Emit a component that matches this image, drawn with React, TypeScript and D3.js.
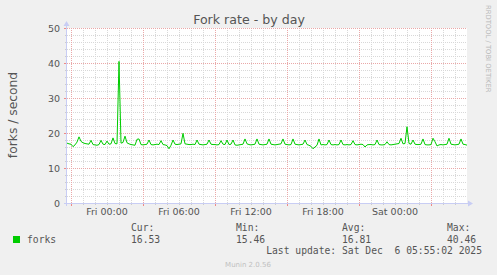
import React from 'react';
import * as d3 from 'd3';

// forks per second, 10-minute samples starting Thu 20:40
const forks: number[] = [
  17.1, 16.9, 16.8, 16.1, 16.6, 17.4, 18.9, 17.6, 17.2, 17.0,
  16.9, 16.8, 17.9, 16.7, 16.6, 16.5, 16.7, 17.9, 16.8, 16.7,
  17.7, 16.8, 16.9, 18.6, 17.0, 16.9, 40.46, 17.1, 17.3, 19.1,
  17.2, 16.9, 16.7, 16.6, 16.5, 18.2, 18.3, 16.7, 16.6, 16.7,
  16.8, 18.0, 16.7, 16.6, 16.7, 16.8, 16.7, 17.8, 16.7, 16.6,
  16.4, 15.5, 16.5, 18.0, 16.8, 16.7, 16.8, 16.9, 19.9, 16.9,
  16.8, 16.7, 16.7, 16.8, 16.7, 18.0, 16.8, 16.7, 16.6, 16.7,
  16.8, 18.0, 16.8, 16.7, 16.7, 16.6, 16.7, 17.8, 16.8, 16.7,
  18.0, 16.7, 16.8, 18.0, 16.6, 16.5, 16.6, 16.7, 16.8, 18.3,
  16.9, 16.7, 16.6, 16.7, 16.8, 18.3, 16.8, 16.7, 16.6, 16.7,
  16.8, 18.3, 16.8, 16.7, 16.6, 16.7, 16.8, 16.9, 18.3, 16.8,
  16.7, 16.6, 16.7, 18.3, 16.8, 16.7, 16.6, 16.7, 16.8, 18.0,
  16.7, 16.5, 16.2, 15.5, 16.0, 16.5, 18.3, 16.6, 16.7, 16.6,
  16.7, 18.0, 16.7, 16.6, 16.7, 16.6, 16.7, 18.0, 16.7, 16.6,
  16.7, 16.6, 16.7, 17.8, 16.7, 16.6, 16.7, 16.8, 16.7, 16.0,
  16.6, 16.7, 16.7, 16.6, 16.7, 18.0, 16.7, 16.6, 16.6, 16.7,
  17.5, 16.7, 16.6, 16.7, 16.8, 16.9, 17.0, 18.5, 16.9, 17.0,
  21.8, 17.0, 16.8, 18.0, 16.8, 16.7, 16.7, 16.8, 18.3, 16.7,
  16.6, 16.6, 16.7, 18.5, 17.5, 16.3, 16.6, 16.7, 16.6, 16.7,
  16.8, 18.5, 16.8, 16.7, 16.6, 16.7, 16.8, 18.3, 16.8, 16.7,
  16.53,
];

const yTicks = [0, 10, 20, 30, 40, 50];
const legendLabels = ['Cur:', 'Min:', 'Avg:', 'Max:'];
const legendValues = ['16.53', '15.46', '16.81', '40.46'];

const START = new Date(2025, 11, 4, 20, 40);
const END = new Date(2025, 11, 6, 6, 0);
const STEP_MIN = 10;

const W = 497;
const H = 275;
const L = 67, R = 467, T = 28, B = 203;

const SANS = 'DejaVu Sans, Verdana, sans-serif';
const MONO = 'DejaVu Sans Mono, monospace';

export default function App() {
  const x = d3.scaleTime().domain([START, END]).range([L, R]);
  const y = d3.scaleLinear().domain([0, 50]).range([B, T]);
  const times = forks.map((_, i) => d3.timeMinute.offset(START, i * STEP_MIN));
  const line = d3
    .line<number>()
    .x((_, i) => x(times[i]))
    .y((d) => y(d));

  const hours = d3.timeHour.range(d3.timeHour.ceil(START), END);
  const majorHours = hours.filter((h) => h.getHours() % 6 === 3);
  const minorHours = hours.filter((h) => h.getHours() % 6 !== 3);
  const labelHours = hours.filter((h) => h.getHours() % 6 === 0);
  const fmt = d3.timeFormat('%a %H:%M');

  const minorY = d3.range(0, 51, 2).filter((v) => v % 10 !== 0);

  const px = (v: number) => Math.round(v) + 0.5;
  const legendX = [131, 236, 342, 447];

  return (
    <svg
      width={W}
      height={H}
      style={{ position: 'fixed', left: 0, top: 0, display: 'block' }}
      xmlns="http://www.w3.org/2000/svg"
    >
      <rect x={0} y={0} width={W} height={H} fill="#f0f0f0" />
      <rect x={L} y={T} width={R - L} height={B - T} fill="#ffffff" />

      {/* minor grid */}
      {minorHours.map((h, i) => (
        <line key={'mv' + i} x1={px(x(h))} x2={px(x(h))} y1={T} y2={B}
          stroke="#d8d8d8" strokeDasharray="1,1" />
      ))}
      {minorY.map((v) => (
        <line key={'mh' + v} x1={L} x2={R} y1={px(y(v))} y2={px(y(v))}
          stroke="#d8d8d8" strokeDasharray="1,1" />
      ))}
      {/* major grid */}
      {majorHours.map((h, i) => (
        <line key={'Mv' + i} x1={px(x(h))} x2={px(x(h))} y1={T} y2={B}
          stroke="#eaa8a8" strokeDasharray="1,1" />
      ))}
      {yTicks.filter((v) => v > 0).map((v) => (
        <line key={'Mh' + v} x1={L} x2={R} y1={px(y(v))} y2={px(y(v))}
          stroke="#eaa8a8" strokeDasharray="1,1" />
      ))}

      {/* ticks */}
      {minorHours.map((h, i) => (
        <line key={'tv' + i} x1={px(x(h))} x2={px(x(h))} y1={B} y2={B + 2} stroke="#cccccc" />
      ))}
      {majorHours.map((h, i) => (
        <line key={'tM' + i} x1={px(x(h))} x2={px(x(h))} y1={B} y2={B + 3} stroke="#ee8888" />
      ))}
      {minorY.map((v) => (
        <line key={'ty' + v} x1={L - 2} x2={L} y1={px(y(v))} y2={px(y(v))} stroke="#cccccc" />
      ))}
      {yTicks.map((v) => (
        <line key={'tY' + v} x1={L - 3} x2={L} y1={px(y(v))} y2={px(y(v))} stroke="#ee8888" />
      ))}

      {/* axes */}
      <line x1={L - 0.5} x2={L - 0.5} y1={T - 3} y2={B + 3} stroke="#c8cdf4" />
      <line x1={L - 3} x2={R + 3} y1={B + 0.5} y2={B + 0.5} stroke="#c8cdf4" />
      <path d={`M${L - 3.5},${T - 2} L${L - 0.5},${T - 7} L${L + 2.5},${T - 2} Z`} fill="#c8cdf4" />
      <path d={`M${R + 1},${B - 2.5} L${R + 6},${B + 0.5} L${R + 1},${B + 3.5} Z`} fill="#c8cdf4" />

      {/* data line */}
      <path d={line(forks) ?? ''} fill="none" stroke="#00cc00" strokeWidth={1} />

      {/* y tick labels */}
      {yTicks.map((v) => (
        <text key={'yl' + v} x={60} y={y(v) + 3.5} textAnchor="end"
          fontFamily={SANS} fontSize={9.5} fill="#555555">{v}</text>
      ))}
      {/* x tick labels */}
      {labelHours.map((h, i) => (
        <text key={'xl' + i} x={x(h)} y={215} textAnchor="middle"
          fontFamily={SANS} fontSize={9.5} fill="#555555">{fmt(h)}</text>
      ))}

      {/* title */}
      <text x={249} y={24} textAnchor="middle" fontFamily={SANS} fontSize={12.6} fill="#555555">
        Fork rate - by day
      </text>
      {/* vertical label */}
      <text transform="translate(16.5,115) rotate(-90)" textAnchor="middle"
        fontFamily={SANS} fontSize={12.3} fill="#555555">forks / second</text>
      {/* watermark right */}
      <text transform="translate(486,5) rotate(90)" textAnchor="start"
        fontFamily={SANS} fontSize={6.8} fill="#b8b8b8">RRDTOOL / TOBI OETIKER</text>

      {/* legend */}
      <rect x={13} y={236} width={7} height={7} fill="#00cc00" />
      <text x={27} y={242.5} fontFamily={MONO} fontSize={9.7} fill="#555555">forks</text>
      {legendLabels.map((lab, i) => (
        <text key={'lg' + i} x={legendX[i]} y={231} fontFamily={MONO} fontSize={9.7} fill="#555555">{lab}</text>
      ))}
      {legendValues.map((val, i) => (
        <text key={'lv' + i} x={legendX[i]} y={242.5} fontFamily={MONO} fontSize={9.7} fill="#555555">{val}</text>
      ))}
      <text x={482} y={254} textAnchor="end" fontFamily={MONO} fontSize={9.7} fill="#555555"
        style={{ whiteSpace: 'pre' }}>
        {'Last update: Sat Dec  6 05:55:02 2025'}
      </text>
      <text x={248} y={267} textAnchor="middle" fontFamily={SANS} fontSize={7} fill="#c0c0c0">
        Munin 2.0.56
      </text>
    </svg>
  );
}
